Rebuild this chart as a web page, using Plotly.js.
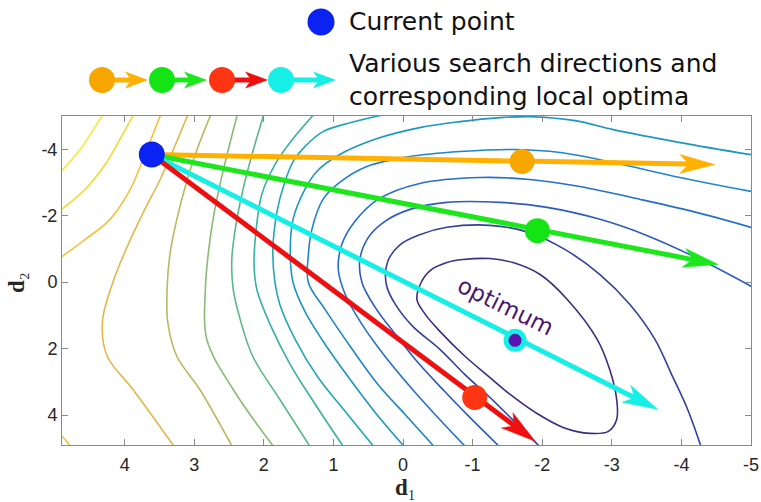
<!DOCTYPE html>
<html>
<head>
<meta charset="utf-8">
<script src="https://cdn.plot.ly/plotly-3.0.1.min.js"></script>
<style>
  html, body { margin: 0; padding: 0; background: #ffffff; }
  #chart { width: 761px; height: 502px; }
</style>
</head>
<body>
<div id="chart"></div>
<script>
// ---- contour lines of the objective, innermost level first ----
const level1X = [-0.20,-0.26,-0.39,-0.63,-0.86,-1.25,-1.58,-1.97,-2.36,-2.79,-2.97,-3.07,-3.07,-2.95,-2.69,-2.30,-1.90,-1.54,-1.25,-0.89,-0.53,-0.32,-0.20];
const level1Y = [0.52,0.01,-0.35,-0.59,-0.68,-0.71,-0.59,-0.23,0.52,1.72,2.63,3.53,4.13,4.49,4.55,4.37,3.92,3.38,2.87,2.23,1.48,0.97,0.52];
const level2X = [-1.99,-1.57,-1.25,-0.89,-0.53,-0.14,0.11,0.24,0.22,0.04,-0.24,-0.63,-1.25,-1.82,-2.33,-2.83,-3.26,-3.62,-3.86,-4.09,-4.29];
const level2Y = [5.0,4.13,3.47,2.78,2.02,1.33,0.67,0.07,-0.62,-1.13,-1.43,-1.65,-1.71,-1.49,-0.98,-0.23,0.67,1.72,2.78,3.83,5.0];
const level3X = [-1.41,-0.96,-0.60,-0.24,0.11,0.40,0.59,0.62,0.50,0.26,-0.10,-0.63,-1.39,-2.07,-2.83,-3.51,-4.27,-5.05];
const level3Y = [5.0,4.07,3.29,2.48,1.57,0.76,0.01,-0.68,-1.34,-1.83,-2.19,-2.40,-2.40,-2.25,-1.89,-1.40,-0.68,0.18];
const level4X = [-0.92,-0.46,-0.10,0.26,0.59,0.83,0.93,0.88,0.69,0.36,-0.24,-1.11,-1.82,-2.54,-3.41,-4.27,-5.05];
const level4Y = [5.0,3.98,3.14,2.23,1.27,0.37,-0.38,-1.13,-1.83,-2.49,-2.97,-3.15,-3.09,-2.88,-2.49,-2.07,-1.62];
const level5X = [-0.47,-0.03,0.36,0.73,1.12,1.36,1.36,1.31,1.15,0.91,0.52,-0.10,-0.82,-1.58,-2.26,-3.02,-3.98,-5.05];
const level5Y = [5.0,3.98,3.08,2.02,0.82,0.01,-0.83,-1.58,-2.49,-3.00,-3.48,-3.78,-3.93,-3.99,-3.90,-3.60,-3.15,-2.71];
const level6X = [-0.04,0.40,0.76,1.12,1.41,1.58,1.62,1.58,1.41,1.24,0.91,0.37,-0.24,-0.82,-1.39,-1.82,-2.47,-3.02,-3.98,-5.05];
const level6Y = [5.0,3.92,2.93,1.87,0.88,0.01,-0.83,-1.89,-2.79,-3.33,-3.84,-4.32,-4.65,-4.83,-4.95,-4.98,-4.86,-4.59,-4.20,-3.82];
const level7X = [0.40,0.83,1.22,1.55,1.77,1.84,1.87,1.81,1.71,1.58,1.41,1.15,0.76,0.25];
const level7Y = [5.0,3.89,2.87,1.72,0.67,0.01,-0.98,-2.13,-2.94,-3.63,-4.08,-4.53,-4.80,-5.05];
const level8X = [0.84,1.26,1.62,1.91,2.10,2.14,2.11,2.03,1.84,1.59,1.28];
const level8Y = [5.0,3.68,2.48,1.27,0.22,-0.53,-1.58,-2.64,-3.54,-4.29,-5.05];
const level9X = [1.32,1.77,2.16,2.34,2.44,2.46,2.40,2.30,2.17,2.00];
const level9Y = [5.0,3.53,2.23,1.12,0.22,-0.68,-1.74,-2.78,-3.84,-5.05];
const level10X = [1.84,2.44,2.82,2.84,2.80,2.73,2.63,2.51,2.38];
const level10Y = [5.0,3.23,1.72,0.22,-0.83,-1.89,-2.94,-3.99,-5.05];
const level11X = [2.44,2.92,3.25,3.38,3.39,3.35,3.25,3.12,2.96,2.76];
const level11Y = [5.0,3.23,2.23,1.21,0.22,-0.83,-1.89,-2.94,-3.99,-5.05];
const level12X = [3.27,3.88,4.25,4.32,4.17,3.95,3.71,3.49,3.30,3.09];
const level12Y = [5.0,3.23,2.23,1.21,0.01,-1.13,-2.19,-3.09,-3.99,-5.05];
const level13X = [4.95,4.57,4.21,3.92,3.71,3.48];
const level13Y = [-0.70,-1.28,-1.89,-2.79,-3.84,-5.05];
const level13CornerX = [4.95,4.85,4.76];
const level13CornerY = [4.55,4.75,5.0];
const level14X = [4.95,4.57,4.28,4.07,3.87];
const level14Y = [-2.12,-2.79,-3.54,-4.29,-5.05];
const level15X = [4.95,4.64,4.47,4.31];
const level15Y = [-3.25,-3.99,-4.53,-5.05];

// ---- search from the current point ----
const currentX = 3.61, currentY = -3.84;
const directionTipX = [-4.48, -4.53, -3.66, -1.90];   // orange, green, cyan, red
const directionTipY = [-3.54, -0.53, 3.83, 4.79];
const localOptX = [-1.71, -1.93, -1.61, -1.03];
const localOptY = [-3.63, -1.55, 1.75, 3.47];

// ---- axis ticks ----
const xTickVals = [4, 3, 2, 1, 0, -1, -2, -3, -4, -5];
const yTickVals = [-4, -2, 0, 2, 4];
const xTickText = xTickVals.map(String);
const yTickText = yTickVals.map(String);

// ---- styles ----
const levelColors = ['#3c2d82','#34409e','#2a5bbf','#2470c8','#1f84c9','#1d96c3','#22a6b5','#37b1a0','#5ab78a','#88bb74','#b7ba60','#e2b74c','#f2c23c','#f3d92e','#eeec34'];
const dirColors  = ['#ffb000', '#1de61d', '#17eee6', '#ee1010'];
const dotColors  = ['#f8a600', '#14e414', '#17eee6', '#ff3412'];
const blueColor = '#0a22f2';

// plot geometry (px)
const W = 761, H = 502;
const margin = {l: 62, r: 10, t: 116, b: 57};
const xRange = [4.9, -5], yRange = [4.9, -5];
const plotW = W - margin.l - margin.r, plotH = H - margin.t - margin.b;
const toPx = (x, y) => [margin.l + (x - xRange[0]) / (xRange[1] - xRange[0]) * plotW,
                        margin.t + plotH - (y - yRange[0]) / (yRange[1] - yRange[0]) * plotH];
const toData = (px, py) => [xRange[0] + (px - margin.l) / plotW * (xRange[1] - xRange[0]),
                            yRange[0] + (margin.t + plotH - py) / plotH * (yRange[1] - yRange[0])];
const toPaper = (px, py) => [(px - margin.l) / plotW, (margin.t + plotH - py) / plotH];

// notched arrow head in pixel space: returns [tip, barb1, notch, barb2]
function headPx(p0, p1, len, half, notch) {
  const dx = p1[0] - p0[0], dy = p1[1] - p0[1];
  const d = Math.hypot(dx, dy), ux = dx / d, uy = dy / d, nx = -uy, ny = ux;
  const bx = p1[0] - len * ux, by = p1[1] - len * uy;
  return [p1, [bx + half * nx, by + half * ny],
          [p1[0] - (len - notch) * ux, p1[1] - (len - notch) * uy],
          [bx - half * nx, by - half * ny]];
}

const traces = [];
const contourSets = [
  [level1X, level1Y, 0], [level2X, level2Y, 1], [level3X, level3Y, 2], [level4X, level4Y, 3],
  [level5X, level5Y, 4], [level6X, level6Y, 5], [level7X, level7Y, 6], [level8X, level8Y, 7],
  [level9X, level9Y, 8], [level10X, level10Y, 9], [level11X, level11Y, 10], [level12X, level12Y, 11],
  [level13X, level13Y, 12], [level13CornerX, level13CornerY, 12], [level14X, level14Y, 13], [level15X, level15Y, 14]
];
contourSets.forEach(([xs, ys, k]) => traces.push({
  type: 'scatter', mode: 'lines', x: xs, y: ys, hoverinfo: 'skip', showlegend: false,
  line: {color: levelColors[k], width: 1.6, shape: 'spline', smoothing: 1}
}));

// direction arrows: shaft to the notch, then a filled head
directionTipX.forEach((tx, i) => {
  const p0 = toPx(currentX, currentY), p1 = toPx(tx, directionTipY[i]);
  const h = headPx(p0, p1, 35, 9.5, 9);
  const notch = toData(h[2][0], h[2][1]);
  traces.push({type: 'scatter', mode: 'lines', x: [currentX, notch[0]], y: [currentY, notch[1]],
    hoverinfo: 'skip', showlegend: false, line: {color: dirColors[i], width: 5}});
  const poly = h.map(p => toData(p[0], p[1]));
  traces.push({type: 'scatter', mode: 'lines', x: poly.map(p => p[0]).concat(poly[0][0]),
    y: poly.map(p => p[1]).concat(poly[0][1]), fill: 'toself', fillcolor: dirColors[i],
    hoverinfo: 'skip', showlegend: false, line: {color: dirColors[i], width: 0.5}});
});

// local optima along each direction
traces.push({type: 'scatter', mode: 'markers', x: localOptX.slice(0, 2).concat(localOptX[3]),
  y: localOptY.slice(0, 2).concat(localOptY[3]), hoverinfo: 'skip', showlegend: false,
  marker: {size: 25, color: [dotColors[0], dotColors[1], dotColors[3]], line: {width: 0}}});
// global optimum: cyan ring with a purple centre
traces.push({type: 'scatter', mode: 'markers', x: [localOptX[2]], y: [localOptY[2]], hoverinfo: 'skip',
  showlegend: false, marker: {size: 23, color: dotColors[2], line: {width: 0}}});
traces.push({type: 'scatter', mode: 'markers', x: [localOptX[2]], y: [localOptY[2]], hoverinfo: 'skip',
  showlegend: false, marker: {size: 13, color: '#5a12b0', line: {width: 0}}});
// current point
traces.push({type: 'scatter', mode: 'markers', x: [currentX], y: [currentY], hoverinfo: 'skip',
  showlegend: false, marker: {size: 26, color: blueColor, line: {width: 0}}});

// ---- key drawn above the axes ----
const shapes = [];
function paperCircle(cx, cy, r, color) {
  const a = toPaper(cx - r, cy + r), b = toPaper(cx + r, cy - r);
  shapes.push({type: 'circle', xref: 'paper', yref: 'paper', x0: a[0], y0: a[1], x1: b[0], y1: b[1],
    fillcolor: color, line: {width: 0}});
}
function paperArrow(x0, x1, y, color) {
  const h = headPx([x0, y], [x1, y], 23, 8.5, 6);
  const s = toPaper(x0, y), e = toPaper(h[2][0], h[2][1]);
  shapes.push({type: 'line', xref: 'paper', yref: 'paper', x0: s[0], y0: s[1], x1: e[0], y1: e[1],
    line: {color: color, width: 5}});
  const pts = h.map(p => toPaper(p[0], p[1]));
  shapes.push({type: 'path', xref: 'paper', yref: 'paper', fillcolor: color, line: {width: 0},
    path: 'M' + pts.map(p => p[0] + ',' + p[1]).join('L') + 'Z'});
}
const keyDotX = [102, 162, 222, 281], keyTipX = [148, 207, 268, 336], keyOrder = [0, 1, 3, 2];
keyOrder.forEach((k, i) => paperArrow(keyDotX[i], keyTipX[i], 80, dirColors[k]));
keyOrder.forEach((k, i) => paperCircle(keyDotX[i], 80, 13, dotColors[k]));
paperCircle(321, 22, 13.5, blueColor);

const keyFont = {family: 'DejaVu Sans', size: 25, color: '#111111'};
const axisTitleFont = {family: 'Liberation Serif, DejaVu Serif', size: 23, color: '#262626'};
const lab1 = toPaper(347, 22), lab2 = toPaper(347, 80.5), optLab = toData(505, 306);
const xTitlePos = toPaper(405, 501), yTitlePos = toPaper(16, 283);
const annotations = [
  {xref: 'paper', yref: 'paper', x: lab1[0], y: lab1[1], xanchor: 'left', yanchor: 'middle',
   text: 'Current point', showarrow: false, font: keyFont},
  {xref: 'paper', yref: 'paper', x: lab2[0], y: lab2[1], xanchor: 'left', yanchor: 'middle', align: 'left',
   text: 'Various search directions and<br>corresponding local optima', showarrow: false, font: keyFont},
  {xref: 'x', yref: 'y', x: optLab[0], y: optLab[1], text: 'optimum', showarrow: false, textangle: 26,
   font: {family: 'DejaVu Sans', size: 23, color: '#4a1672'}},
  // axis titles
  {xref: 'paper', yref: 'paper', x: xTitlePos[0], y: xTitlePos[1], xanchor: 'center', yanchor: 'bottom',
   text: '<b>d</b>\u2081', showarrow: false, font: axisTitleFont, borderpad: 0},
  {xref: 'paper', yref: 'paper', x: yTitlePos[0], y: yTitlePos[1], xanchor: 'center', yanchor: 'middle',
   textangle: -90, text: '<b>d</b>\u2082', showarrow: false, font: axisTitleFont, borderpad: 0}
];

const axisCommon = {
  showgrid: false, zeroline: false, showline: true, mirror: 'ticks', linecolor: '#8a8a8a', linewidth: 1,
  ticks: 'inside', ticklen: 6, tickcolor: '#8a8a8a', tickmode: 'array',
  tickfont: {family: 'Liberation Sans', size: 18, color: '#262626'}
};
const layout = {
  width: W, height: H, margin: margin, paper_bgcolor: '#ffffff', plot_bgcolor: '#ffffff', showlegend: false,
  xaxis: Object.assign({}, axisCommon, {range: xRange, tickvals: xTickVals, ticktext: xTickText,
    ticklabelstandoff: 3}),
  yaxis: Object.assign({}, axisCommon, {range: yRange, tickvals: yTickVals, ticktext: yTickText}),
  shapes: shapes, annotations: annotations
};
Plotly.newPlot('chart', traces, layout, {staticPlot: true, displayModeBar: false});
</script>
</body>
</html>
